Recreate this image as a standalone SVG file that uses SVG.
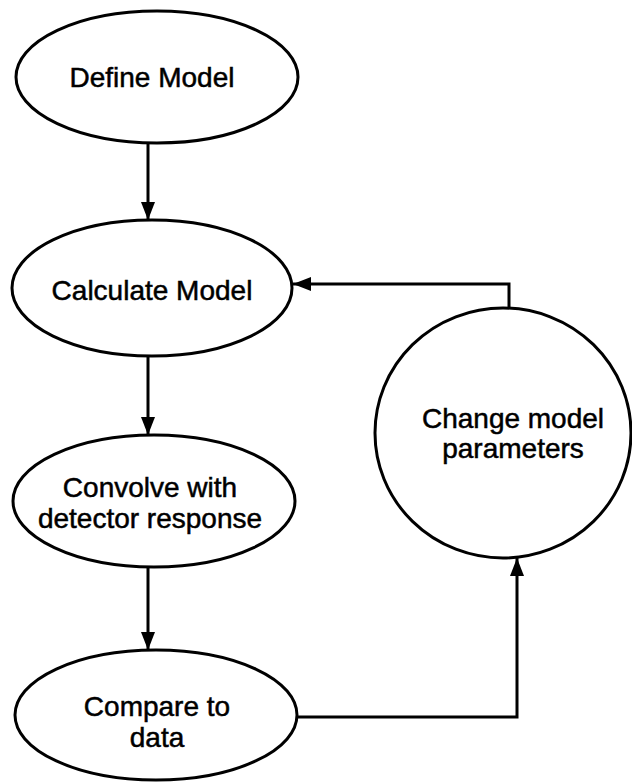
<svg xmlns="http://www.w3.org/2000/svg" width="632" height="782" viewBox="0 0 632 782">
<defs>
<style>
.node{fill:#fff;stroke:#000;stroke-width:3}
.lbl{font-family:"Liberation Sans",Arial,sans-serif;font-size:28px;fill:#000;stroke:#000;stroke-width:0.5;text-anchor:middle}
.edge{fill:none;stroke:#000;stroke-width:3}
</style>
<marker id="ah" viewBox="0 0 18 14" refX="18" refY="7" markerWidth="18" markerHeight="14" markerUnits="userSpaceOnUse" orient="auto">
<path d="M0,0 L18,7 L0,14 z" fill="#000"/>
</marker>
</defs>
<rect width="632" height="782" fill="#fff"/>
<g id="connectors">
<path class="edge" d="M148,143 L148,220" marker-end="url(#ah)"/>
<path class="edge" d="M148,357 L148,435" marker-end="url(#ah)"/>
<path class="edge" d="M148,567 L148,650" marker-end="url(#ah)"/>
<path class="edge" d="M297,717 L517,717 L517,558" marker-end="url(#ah)"/>
<path class="edge" d="M509,308 L509,284 L293,284" marker-end="url(#ah)"/>
</g>
<g id="define-model">
<ellipse class="node" cx="157" cy="77" rx="141" ry="66"/>
<text class="lbl" x="152" y="87">Define Model</text>
</g>
<g id="calculate-model">
<ellipse class="node" cx="152" cy="288" rx="140" ry="68"/>
<text class="lbl" x="152" y="300">Calculate Model</text>
</g>
<g id="convolve">
<ellipse class="node" cx="154" cy="501" rx="141" ry="66"/>
<text class="lbl" x="150" y="497">Convolve with</text>
<text class="lbl" x="150" y="528">detector response</text>
</g>
<g id="compare">
<ellipse class="node" cx="156" cy="715" rx="141" ry="65"/>
<text class="lbl" x="157" y="716">Compare to</text>
<text class="lbl" x="157" y="747">data</text>
</g>
<g id="change-params">
<ellipse class="node" cx="503" cy="433" rx="128" ry="125"/>
<text class="lbl" x="513" y="428">Change model</text>
<text class="lbl" x="513" y="458">parameters</text>
</g>
</svg>
